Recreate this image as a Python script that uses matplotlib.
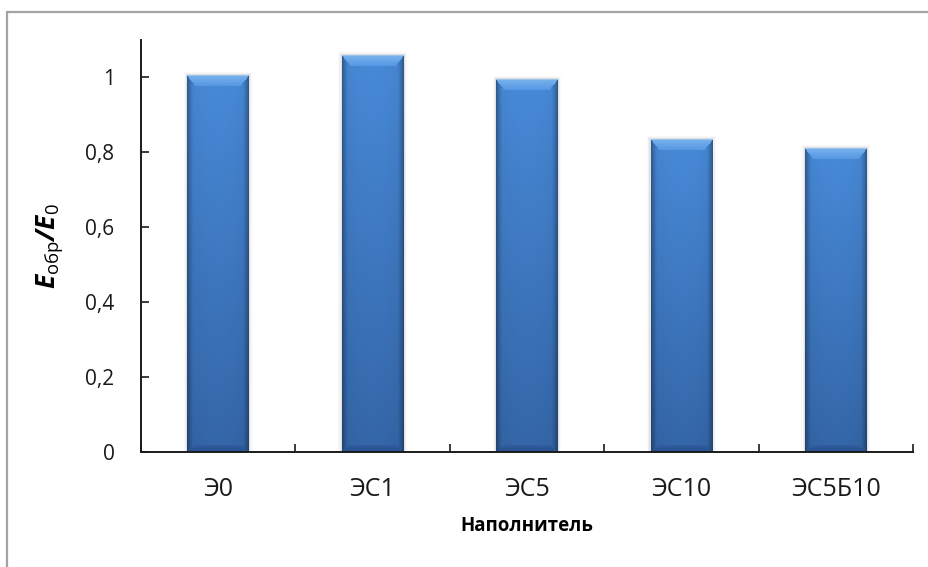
import numpy as np
import matplotlib.pyplot as plt
from matplotlib.patches import Rectangle

plt.rcParams['font.family'] = ['Open Sans', 'DejaVu Sans']
plt.rcParams['mathtext.fontset'] = 'custom'
plt.rcParams['mathtext.rm'] = 'Open Sans'
plt.rcParams['mathtext.bfit'] = 'Open Sans:italic:bold'

# Relative modulus for each filler type
fillers = ['Э0', 'ЭС1', 'ЭС5', 'ЭС10', 'ЭС5Б10']
ratio = [1.005, 1.06, 0.995, 0.835, 0.81]
yticks = [0, 0.2, 0.4, 0.6, 0.8, 1.0]
ytick_labels = ['0', '0,2', '0,4', '0,6', '0,8', '1']

fig = plt.figure(figsize=(9.29, 5.67), dpi=100)
fig.patch.set_facecolor('white')
W, H = 929, 567

# chart frame (runs off the right/bottom edges)
fig.patches.append(Rectangle((7 / W, -0.05), 1.2, 1 - 12 / H + 0.05,
                             transform=fig.transFigure, fill=False,
                             edgecolor='#a3a3a3', linewidth=1.6))

ax = fig.add_axes([141 / W, 1 - 451.7 / H, (913 - 141) / W, (451.7 - 40) / H])
x = np.arange(len(fillers))
bars = ax.bar(x, ratio, width=0.4, color='#3f7cc9', zorder=2)

ax.set_xlim(-0.5, len(fillers) - 0.5)
ax.set_ylim(0, 1.1)


def shade(patch):
    """Paint an Excel-like bevelled gradient over a bar."""
    x0, y0 = patch.get_x(), patch.get_y()
    bw, bh = patch.get_width(), patch.get_height()
    p0 = ax.transData.transform((x0, y0))
    p1 = ax.transData.transform((x0 + bw, y0 + bh))
    nx = max(int(round(p1[0] - p0[0])), 2)
    ny = max(int(round(p1[1] - p0[1])), 2)

    cols = np.arange(nx)
    rows = np.arange(ny)
    u = np.abs(2 * cols / (nx - 1) - 1)
    v = rows / (ny - 1)  # 0 at top, 1 at bottom

    top = np.array([72, 138, 216]) / 255
    bottom = np.array([52, 102, 168]) / 255
    body = top[None, None, :] * (1 - v[:, None, None]) + bottom[None, None, :] * v[:, None, None]
    body = np.broadcast_to(body, (ny, nx, 3)).copy()

    edge = np.clip((u - 0.8) / 0.2, 0, 1) ** 1.3
    body *= (1 - 0.3 * edge)[None, :, None]
    body *= (1 - 0.05 * u ** 2)[None, :, None]

    # top bevel
    b = 11
    s = 9
    for r in range(min(b, ny)):
        inset = int(round(r * s / b))
        t = r / b
        c = np.array([120, 178, 238]) / 255 * (1 - t) + np.array([84, 150, 226]) / 255 * t
        body[r, inset:nx - inset] = c
    body[0, :] = np.array([150, 195, 240]) / 255

    # bottom bevel
    bb = 7
    for r in range(min(bb, ny)):
        inset = int(round(r * s / bb))
        t = r / bb
        c = np.array([40, 80, 140]) / 255 * (1 - t) + np.array([48, 95, 160]) / 255 * t
        body[ny - 1 - r, inset:nx - inset] = c

    ax.imshow(np.clip(body, 0, 1), extent=(x0, x0 + bw, y0, y0 + bh),
              origin='upper', aspect='auto', interpolation='bilinear', zorder=3)

    # soft shadow
    for k, a in enumerate([0.06, 0.04, 0.02]):
        dx = (k + 1) * 1.2 / 154.4
        dy = (k + 1) * 1.2 / 374
        ax.add_patch(Rectangle((x0 - dx, y0), bw + 2 * dx, bh + dy,
                               facecolor='black', alpha=a, edgecolor='none', zorder=1))


for p in bars.patches:
    shade(p)
ax.set_xlim(-0.5, len(fillers) - 0.5)
ax.set_ylim(0, 1.1)

for side in ['top', 'right']:
    ax.spines[side].set_visible(False)
for side in ['left', 'bottom']:
    ax.spines[side].set_linewidth(1.4)
    ax.spines[side].set_color('#1a1a1a')
    ax.spines[side].set_zorder(4)

ax.set_yticks(yticks)
ax.set_yticklabels(ytick_labels)
ax.tick_params(axis='y', direction='in', length=6, width=1.2, pad=19,
               labelsize=15, colors='#1a1a1a')

ax.set_xticks(x)
ax.set_xticklabels(fillers)
ax.set_xticks(np.arange(len(fillers) + 1) - 0.5, minor=True)
ax.tick_params(axis='x', which='major', length=0, pad=18, labelsize=18, colors='#1a1a1a')
ax.tick_params(axis='x', which='minor', direction='in', length=6, width=1.2, colors='#1a1a1a')

ax.set_xlabel('Наполнитель', fontsize=13.5, fontweight='bold', labelpad=10)
ax.set_ylabel(r'$\mathbfit{E}_{\mathrm{обр}}\mathbfit{/E}_{\mathrm{0}}$', fontsize=19,
              labelpad=14)

fig.savefig('out.png', dpi=100, facecolor='white')
